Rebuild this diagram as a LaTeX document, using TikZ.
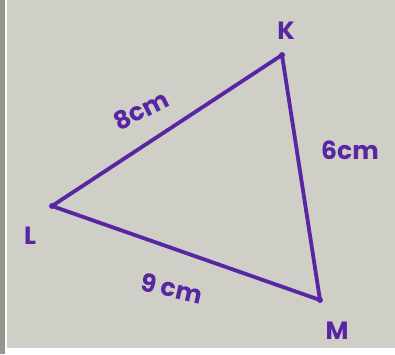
\documentclass[tikz,border=0pt]{standalone}
\usepackage{fontspec}
\setmainfont{Poppins}
\definecolor{Paper}{RGB}{208,207,199}
\definecolor{Frame}{RGB}{150,150,140}
\definecolor{Pen}{RGB}{88,38,162}

\begin{document}
\begin{tikzpicture}[x=1pt, y=-1pt, every node/.style={font=\fontsize{25}{27}\selectfont\bfseries, text=Pen, inner sep=1pt}]
  \tikzstyle{edge}=[draw=Pen, line width=3.8pt, line join=round, line cap=round]
  \tikzstyle{tip}=[circle, fill=Pen, inner sep=0pt, minimum size=6pt]
  % paper and photo frame
  \useasboundingbox (0,0) rectangle (395,354);
  \fill[white] (0,0) rectangle (395,354);
  \fill[Frame] (0,0) rectangle (5,354);
  \fill[Paper] (7,0) rectangle (395,348);
  % corners
  \node[tip] (K) at (282,55)  {};
  \node[tip] (L) at (52,206)  {};
  \node[tip] (M) at (320,300) {};
  \draw[edge] (L.center) -- (K.center) -- (M.center) -- cycle;
  % letters
  \node (labK) at (286,31)  {K};
  \node (labL) at (30,236)  {L};
  \node (labM) at (337,331) {M};
  % lengths
  \node[rotate=27]  (lenLK) at (141,110) {8cm};
  \node             (lenKM) at (350,150) {6cm};
  \node[rotate=-13] (lenLM) at (172,288) {9 cm};
\end{tikzpicture}
\end{document}
